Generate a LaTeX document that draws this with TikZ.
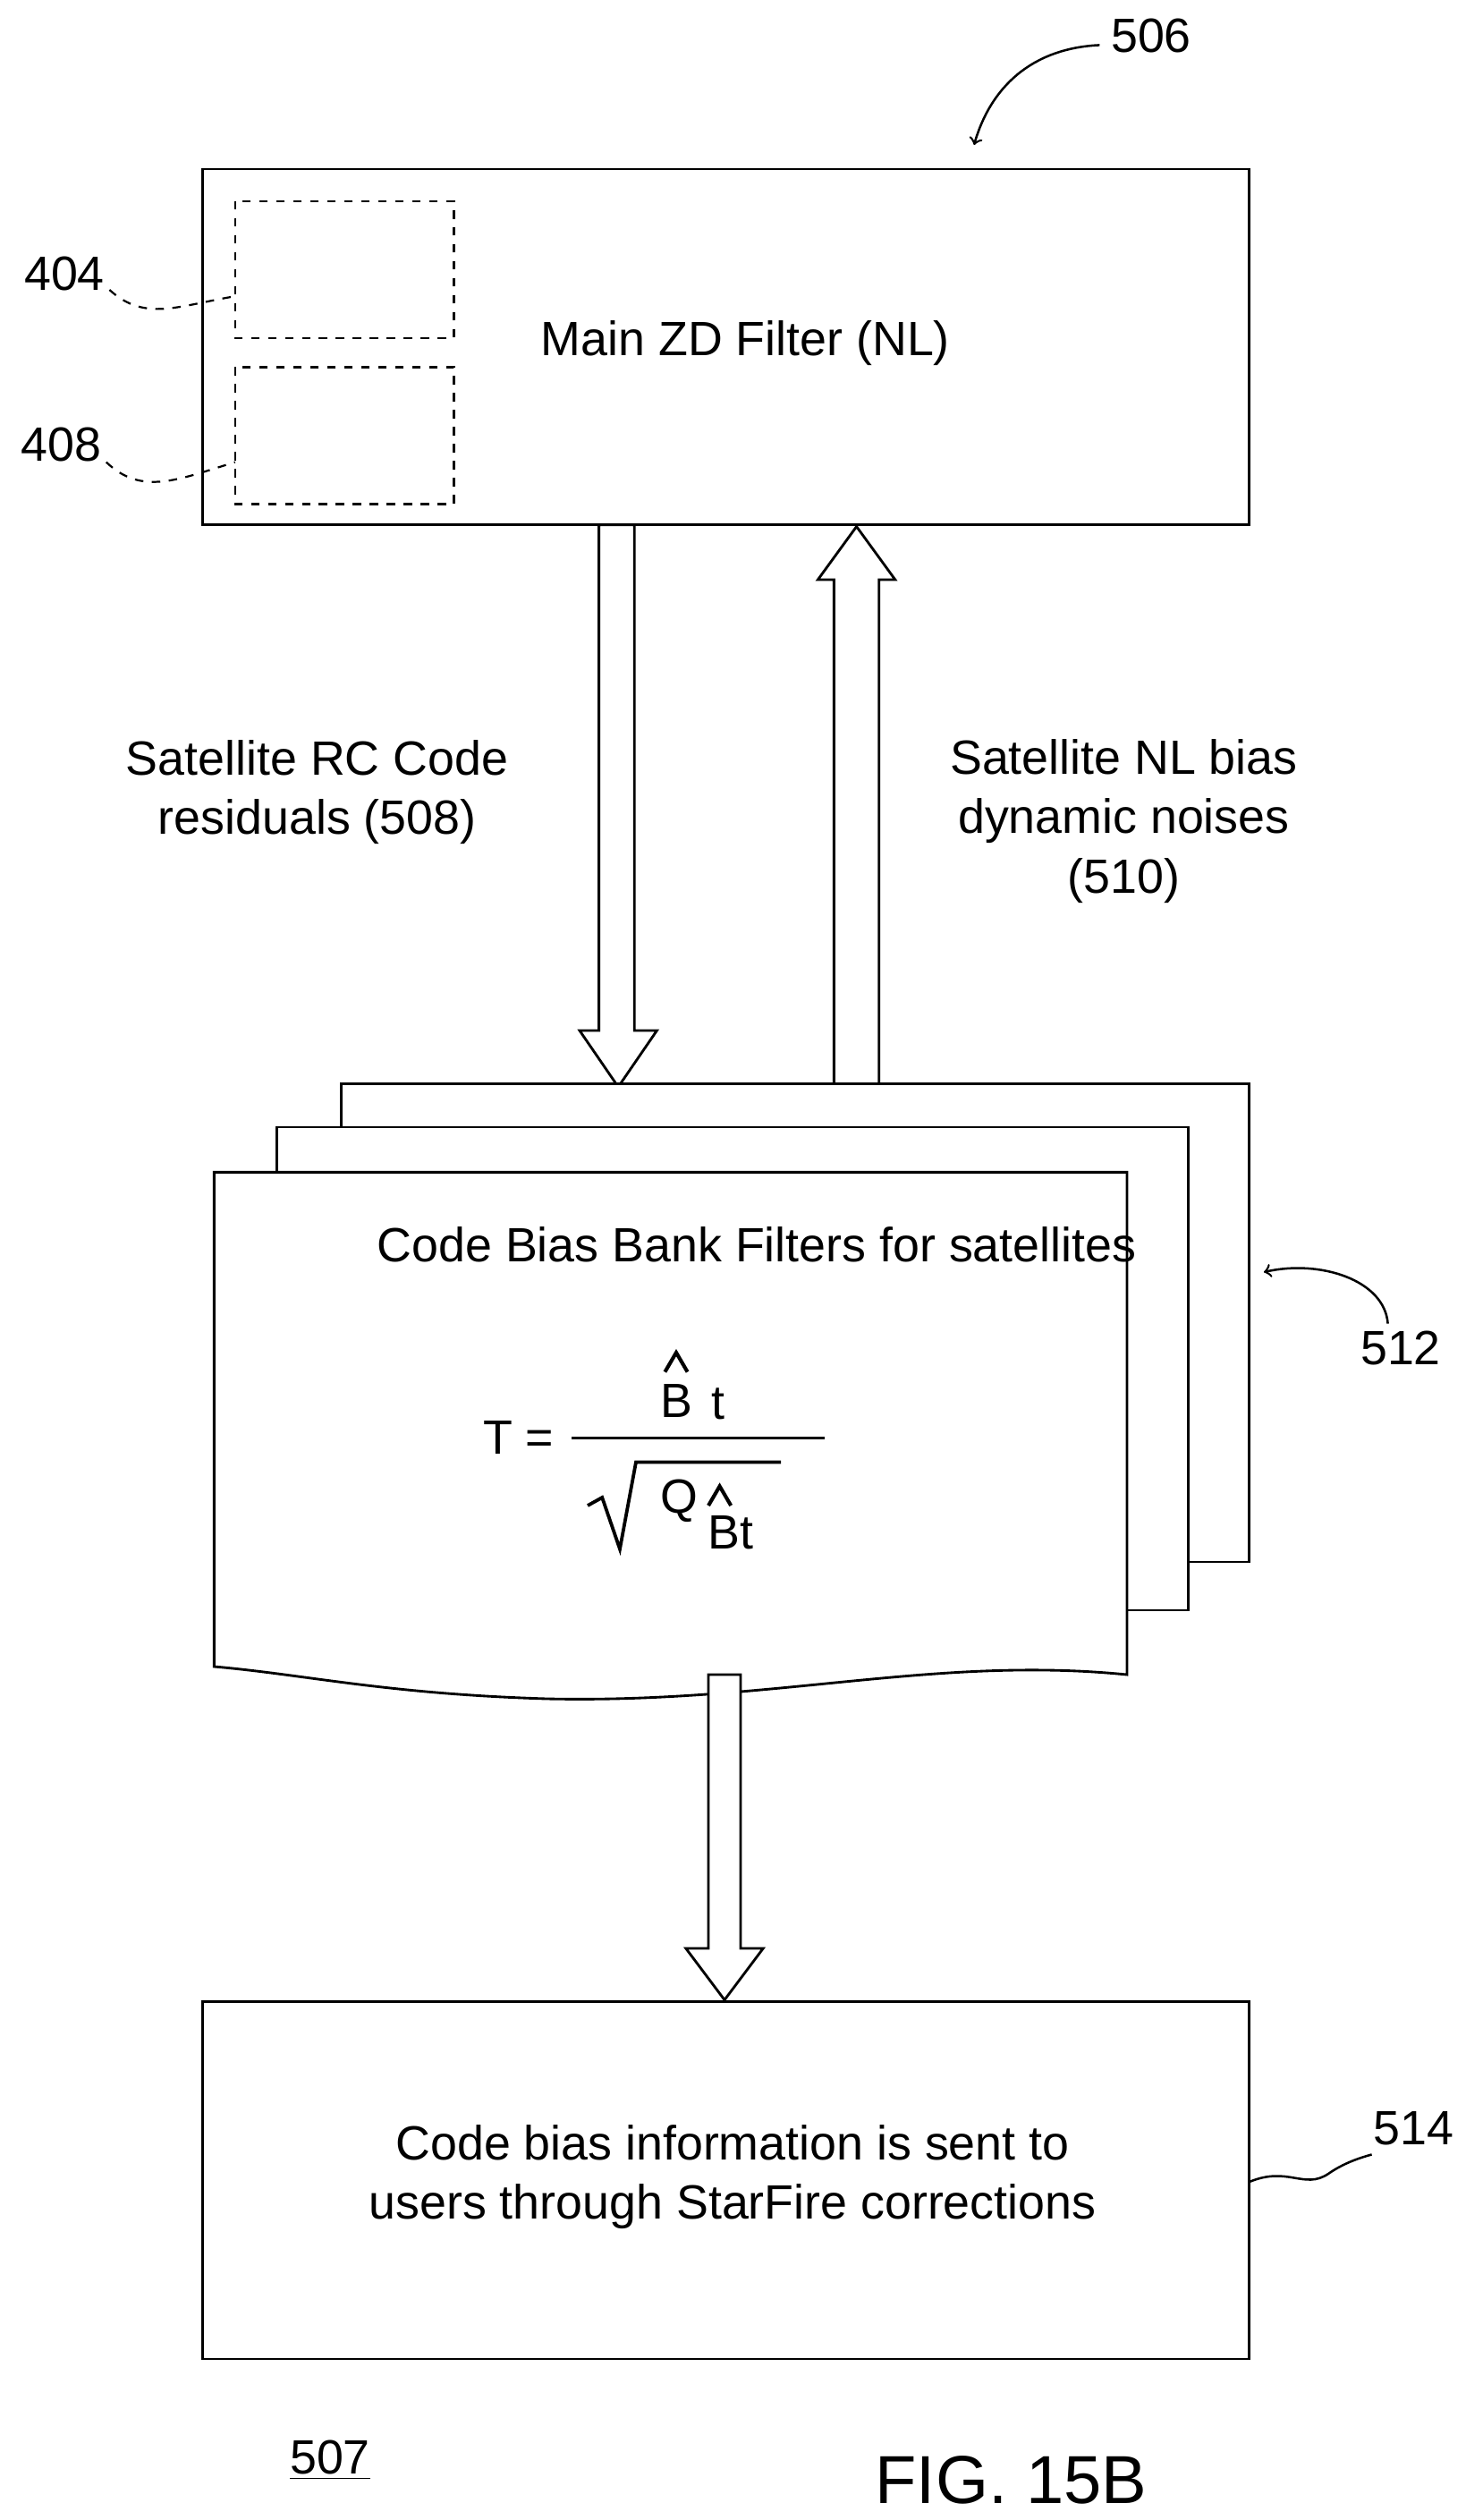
\documentclass[tikz,border=0pt]{standalone}
\usepackage{fontspec}
\setmainfont{Liberation Sans}
\usetikzlibrary{calc}
\begin{document}
\begin{tikzpicture}[x=0.02cm,y=-0.02cm,line width=0.9pt,
  box/.style={draw,fill=white},
  lbl/.style={font=\fontsize{17}{21}\selectfont,align=center},
  num/.style={font=\fontsize{17}{21}\selectfont},
  f/.style={font=\fontsize{17}{21}\selectfont,inner sep=0pt},
  hat/.style={line width=1.3pt}]
\useasboundingbox (0,0) rectangle (910,1565);
% main box
\draw[box] (126,105) rectangle (776,326);
\node[lbl] (main) at (463,213) {Main ZD Filter (NL)};
\draw[dashed,line width=0.7pt] (146,125) rectangle (282,210);
\draw[dashed,line width=0.7pt] (146,228) rectangle (282,313);
\coordinate (d1) at (146,184); \coordinate (d2) at (146,287);
\node[num] (n404) at (40,170) {404};
\node[num] (n408) at (38,276) {408};
\draw[dashed,line width=0.7pt] (68,180) .. controls (90,200) and (110,190) .. (d1);
\draw[dashed,line width=0.7pt] (66,287) .. controls (88,308) and (110,298) .. (d2);
\node[num] (n506) at (715,22) {506};
\draw[->,line width=0.8pt] (683,28) .. controls (640,30) and (615,55) .. (605,90);
% hollow arrows
\draw[fill=white] (372,326) -- (394,326) -- (394,640) -- (408,640) -- (384,675) -- (360,640) -- (372,640) -- cycle;
\draw[fill=white] (518,675) -- (546,675) -- (546,360) -- (556,360) -- (532,327) -- (508,360) -- (518,360) -- cycle;
\node[lbl] (l508) at (197,492) {Satellite RC Code\\residuals (508)};
\node[lbl] (l510) at (698,510) {Satellite NL bias\\dynamic noises\\(510)};
% pages
\draw[box] (212,673) rectangle (776,970);
\draw[box] (172,700) rectangle (738,1000);
\draw[box] (133,728) -- (700,728) -- (700,1040) .. controls (580,1028) and (480,1058) .. (340,1055) .. controls (240,1052) and (190,1040) .. (133,1035) -- cycle;
\node[lbl] (cb) at (470,773) {Code Bias Bank Filters for satellites};
\node[f] (T) at (322,893) {T =};
\draw[line width=1pt] (355,893) -- (512,893);
\node[f] (B) at (420,870) {B};
\node[f] (t) at (446,872) {t};
\draw[hat] (413,852) -- (420,840) -- (427,852);
\draw[line width=1.2pt] (365,935) -- (374,930) -- (385,962) -- (395,908) -- (485,908);
\node[f] (Q) at (422,932) {Q};
\node[f] (Bt) at (454,952) {Bt};
\draw[hat] (440,935) -- (447,923) -- (454,935);
\node[num] (n512) at (870,837) {512};
\draw[->,line width=0.8pt] (862,822) .. controls (860,795) and (820,782) .. (785,790);
% lower arrow
\draw[fill=white] (440,1040) -- (460,1040) -- (460,1210) -- (474,1210) -- (450,1242) -- (426,1210) -- (440,1210) -- cycle;
% bottom box
\draw[box] (126,1243) rectangle (776,1465);
\node[lbl] (info) at (455,1352) {Code bias information is sent to\\users through StarFire corrections};
\node[num] (n514) at (878,1322) {514};
\draw[line width=0.8pt] (776,1355) .. controls (800,1345) and (810,1360) .. (825,1350) .. controls (835,1343) and (845,1340) .. (852,1338);
\node[num] (n507) at (205,1528) {\underline{507}};
\node[font=\fontsize{24}{28}\selectfont] (fig) at (628,1540) {FIG. 15B};
\end{tikzpicture}
\end{document}
